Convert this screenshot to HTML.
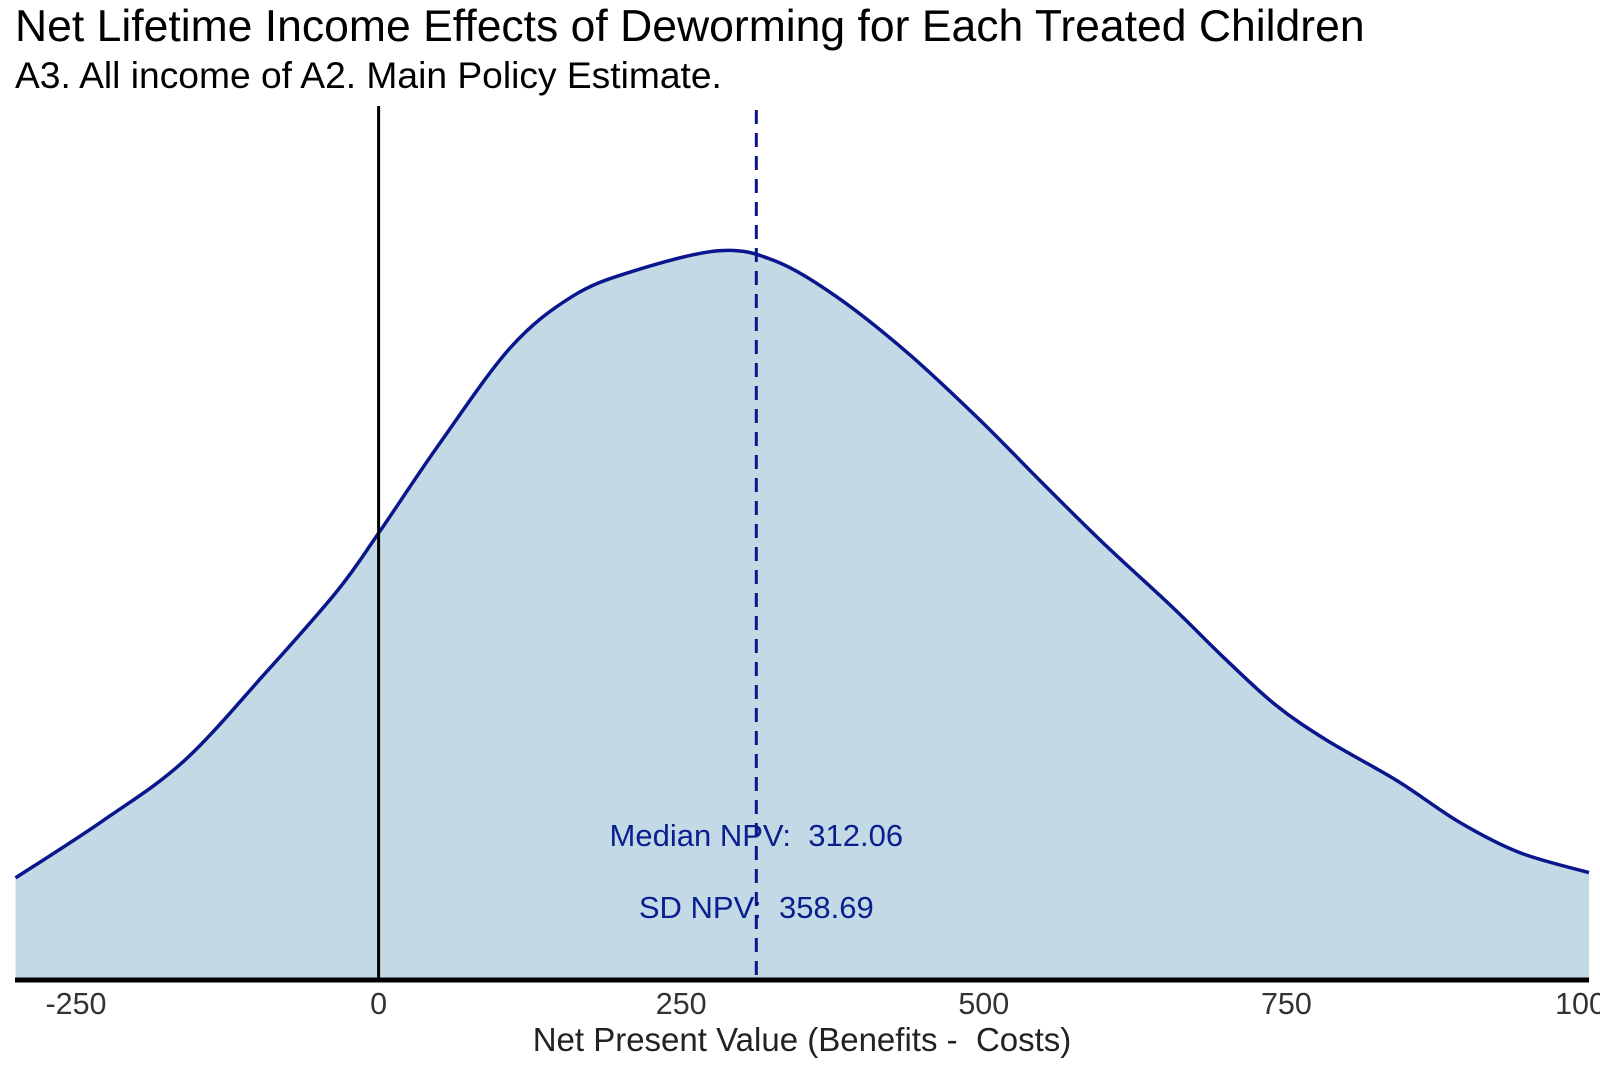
<!DOCTYPE html>
<html><head><meta charset="utf-8"><style>
body{margin:0;background:#fff;}
svg text{font-family:"Liberation Sans",Arial,sans-serif;white-space:pre;}
</style></head><body>
<svg id="chart" width="1600" height="1067" viewBox="0 0 1600 1067">
<text x="15" y="41" font-size="44.5" fill="#000">Net Lifetime Income Effects of Deworming for Each Treated Children</text>
<text x="15" y="88" font-size="37.2" fill="#000">A3. All income of A2. Main Policy Estimate.</text>
<g id="plot"></g>
<text x="802" y="1051" font-size="33" fill="#222" text-anchor="middle" xml:space="preserve">Net Present Value (Benefits -  Costs)</text>
</svg>
<script>
const npvValues=[-300,-228,-161,-94,-35,0,50,109,160,210,281,327,378,437,496,546,597,656,699,741,783,842,893,943,1000];
const densityValues=[1.54,2.40,3.30,4.62,5.85,6.74,8.08,9.54,10.31,10.69,11.0,10.85,10.31,9.46,8.46,7.54,6.62,5.62,4.85,4.15,3.62,3.0,2.38,1.92,1.62];
const xTicks=[-250,0,250,500,750,1000];
const medianNPV=312.06;
const sdNPV=358.69;

const NS="http://www.w3.org/2000/svg";
const g=document.getElementById('plot');
const X0=378.6,X1=1589,BASE=980;
const X=v=>X0+v*(X1-X0)/1000;
const Y=d=>BASE-d*66.3;
function mk(t,a){const e=document.createElementNS(NS,t);for(const k in a)e.setAttribute(k,a[k]);g.appendChild(e);return e;}
const pts=npvValues.map((v,i)=>[X(v),Y(densityValues[i])]);
let d='M'+pts[0][0]+','+pts[0][1];
for(let i=0;i<pts.length-1;i++){
 const p0=pts[Math.max(0,i-1)],p1=pts[i],p2=pts[i+1],p3=pts[Math.min(pts.length-1,i+2)];
 const c1=[p1[0]+(p2[0]-p0[0])/6,p1[1]+(p2[1]-p0[1])/6];
 const c2=[p2[0]-(p3[0]-p1[0])/6,p2[1]-(p3[1]-p1[1])/6];
 d+=` C${c1[0]},${c1[1]} ${c2[0]},${c2[1]} ${p2[0]},${p2[1]}`;
}
const area=mk('path',{d:d+` L${pts[pts.length-1][0]},${BASE} L${pts[0][0]},${BASE} Z`,fill:'#c3d9e6',stroke:'none'});


const line=mk('path',{d:d,fill:'none',stroke:'#0a168c','stroke-width':3.5});


const zl=mk('line',{x1:X(0),x2:X(0),y1:106,y2:BASE,stroke:'#000','stroke-width':3});


const t1=mk('text',{x:X(medianNPV),y:846,'font-size':31,fill:'#0a1f8f','text-anchor':'middle'});
t1.textContent='Median NPV:  '+medianNPV.toFixed(2);


const t2=mk('text',{x:X(medianNPV),y:918,'font-size':31,fill:'#0a1f8f','text-anchor':'middle'});
t2.textContent='SD NPV:  '+sdNPV.toFixed(2);


const ml=mk('line',{x1:X(medianNPV),x2:X(medianNPV),y1:110,y2:BASE,stroke:'#0a168c','stroke-width':3,'stroke-dasharray':'14,9'});


const ax=mk('line',{x1:15,x2:X1,y1:BASE,y2:BASE,stroke:'#000','stroke-width':5});


xTicks.forEach(v=>{
 const t=mk('text',{x:X(v),y:1014,'font-size':30.5,fill:'#333','text-anchor':'middle'});
 t.textContent=v;
 
 
});
</script>
</body></html>
